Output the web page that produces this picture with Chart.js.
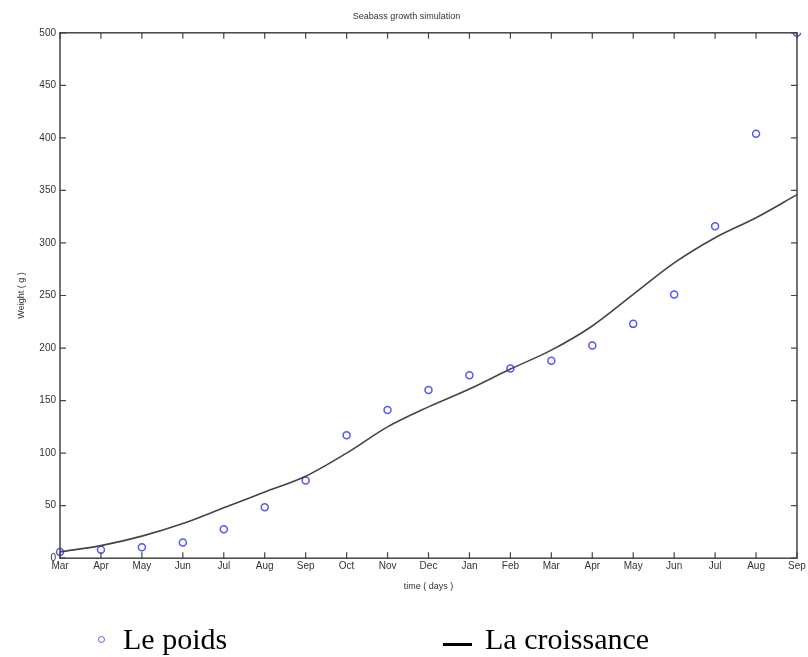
<!DOCTYPE html>
<html>
<head>
<meta charset="utf-8">
<script src="https://cdn.jsdelivr.net/npm/chart.js@4.4.1/dist/chart.umd.min.js"></script>
<style>
  body { margin:0; background:#fff; }
  #wrap { position:relative; width:808px; height:657px; }
  .leg { position:absolute; font-family:"Liberation Serif","Times New Roman",serif; font-size:30px; color:#000; line-height:30px; }
  #mk { position:absolute; left:98px; top:636px; width:5px; height:5px; border:1.6px solid #5555ff; border-radius:50%; }
  #ln { position:absolute; left:443px; top:643px; width:29px; height:3px; background:#000; }
</style>
</head>
<body>
<div id="wrap">
  <canvas id="myChart" width="808" height="657"></canvas>
  <div id="mk"></div>
  <div class="leg" style="left:123px; top:624px;">Le poids</div>
  <div id="ln"></div>
  <div class="leg" style="left:485px; top:624px;">La croissance</div>
</div>
<script>
// mois (axe des x)
var months = ['Mar','Apr','May','Jun','Jul','Aug','Sep','Oct','Nov','Dec','Jan','Feb','Mar','Apr','May','Jun','Jul','Aug','Sep'];
// poids mesures
var poids = [6, 8, 10.5, 15, 27.5, 48.5, 74, 117, 141, 160, 174, 180.5, 188, 202.5, 223, 251, 316, 404, 500];
// courbe de croissance
var croissance = [6, 12, 21, 33, 48, 63, 78, 100, 125, 144, 161, 180, 198, 221, 251, 281, 305, 324, 346];
var yTicks = [0, 50, 100, 150, 200, 250, 300, 350, 400, 450, 500];

// cadre + graduations vers l'interieur (style matlab)
var boxTicks = {
  id: 'boxTicks',
  afterDatasetsDraw: function(chart){
    var c = chart.ctx, a = chart.chartArea;
    var xs = chart.scales.x, ys = chart.scales.y;
    c.save();
    c.strokeStyle = '#444';
    c.lineWidth = 1.5;
    c.strokeRect(a.left, a.top, a.right - a.left, a.bottom - a.top);
    c.lineWidth = 1.2;
    c.beginPath();
    for (var i = 0; i < months.length; i++){
      var px = xs.getPixelForTick(i);
      c.moveTo(px, a.bottom); c.lineTo(px, a.bottom - 6);
      c.moveTo(px, a.top); c.lineTo(px, a.top + 6);
    }
    for (var j = 0; j < yTicks.length; j++){
      var py = ys.getPixelForValue(yTicks[j]);
      c.moveTo(a.left, py); c.lineTo(a.left + 6, py);
      c.moveTo(a.right, py); c.lineTo(a.right - 6, py);
    }
    c.stroke();
    c.restore();
  }
};

var tickFont = { family: 'Liberation Sans, Arial, sans-serif', size: 10 };

new Chart('myChart', {
  type: 'line',
  data: {
    labels: months,
    datasets: [
      {
        label: 'La croissance',
        data: croissance,
        borderColor: '#444',
        borderWidth: 1.6,
        pointRadius: 0,
        tension: 0.4,
        cubicInterpolationMode: 'monotone',
        fill: false
      },
      {
        label: 'Le poids',
        data: poids,
        showLine: false,
        pointRadius: 3.5,
        pointBorderWidth: 1.5,
        pointBorderColor: '#5555ff',
        pointBackgroundColor: 'rgba(0,0,0,0)'
      }
    ]
  },
  options: {
    responsive: false,
    animation: false,
    layout: { padding: { left: 16, right: 11, bottom: 65 } },
    plugins: {
      legend: { display: false },
      tooltip: { enabled: false },
      title: {
        display: true,
        text: 'Seabass growth simulation',
        color: '#333',
        font: { family: 'Liberation Sans, Arial, sans-serif', size: 9, weight: 'normal' },
        padding: { top: 11, bottom: 11 }
      }
    },
    scales: {
      x: {
        offset: false,
        grid: { display: false, drawTicks: false },
        border: { display: false },
        ticks: { color: '#333', font: tickFont, autoSkip: false, maxRotation: 0, padding: 2 },
        title: { display: true, text: 'time ( days )', color: '#333', font: { family: 'Liberation Sans, Arial, sans-serif', size: 9 }, padding: { top: 7, bottom: 0 } }
      },
      y: {
        min: 0,
        max: 500,
        afterFit: function(s){ s.width = 44; },
        grid: { display: false, drawTicks: false },
        border: { display: false },
        ticks: { color: '#333', font: tickFont, stepSize: 50, padding: 4 },
        title: { display: true, text: 'Weight ( g )', color: '#333', font: { family: 'Liberation Sans, Arial, sans-serif', size: 9 }, padding: 0 }
      }
    }
  },
  plugins: [boxTicks]
});
</script>
</body>
</html>
